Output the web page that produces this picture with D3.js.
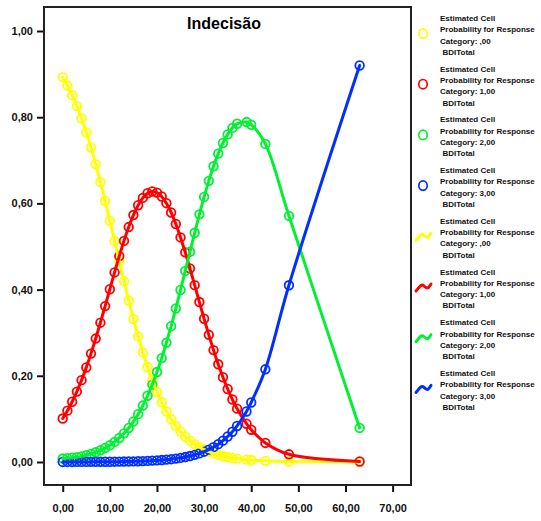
<!DOCTYPE html>
<html>
<head>
<meta charset="utf-8">
<script src="https://cdn.jsdelivr.net/npm/d3@7"></script>
<style>
  html, body { margin: 0; padding: 0; background: #fff; }
  svg { display: block; }
  text { font-family: "Liberation Sans", Arial, sans-serif; }
</style>
</head>
<body>
<svg id="chart" width="541" height="521"></svg>
<script>
// BDI total scores with predicted category probabilities (ordinal model)
const bdiTotal = [0,1,2,3,4,5,6,7,8,9,10,11,12,13,14,15,16,17,18,19,20,21,22,23,24,25,26,27,28,29,30,31,32,33,34,35,36,37,39,40,43,48,63];

const probCat0 = [0.8929,0.8734,0.8512,0.8258,0.7970,0.7649,0.7295,0.6908,0.6493,0.6054,0.5597,0.5130,0.4660,0.4197,0.3747,0.3318,0.2915,0.2543,0.2203,0.1897,0.1625,0.1385,0.1175,0.0994,0.0838,0.0704,0.0591,0.0495,0.0413,0.0345,0.0288,0.0239,0.0199,0.0166,0.0138,0.0114,0.0095,0.0079,0.0054,0.0045,0.0026,0.0010,0.0001];
const probCat1 = [0.1008,0.1191,0.1398,0.1633,0.1899,0.2193,0.2515,0.2864,0.3232,0.3617,0.4008,0.4398,0.4775,0.5129,0.5451,0.5730,0.5958,0.6127,0.6235,0.6277,0.6251,0.6160,0.6005,0.5790,0.5522,0.5211,0.4863,0.4490,0.4103,0.3711,0.3324,0.2951,0.2596,0.2267,0.1966,0.1694,0.1451,0.1237,0.0888,0.0749,0.0442,0.0178,0.0011];
const probCat2 = [0.0080,0.0090,0.0100,0.0112,0.0130,0.0156,0.0188,0.0225,0.0271,0.0325,0.0389,0.0466,0.0557,0.0665,0.0789,0.0938,0.1110,0.1309,0.1537,0.1795,0.2087,0.2410,0.2766,0.3151,0.3561,0.3991,0.4433,0.4877,0.5318,0.5746,0.6150,0.6523,0.6861,0.7154,0.7401,0.7601,0.7752,0.7848,0.7887,0.7825,0.7380,0.5710,0.0790];
const probCat3 = [0.0001,0.0001,0.0001,0.0002,0.0002,0.0002,0.0003,0.0003,0.0004,0.0005,0.0006,0.0007,0.0008,0.0010,0.0013,0.0015,0.0018,0.0021,0.0025,0.0031,0.0037,0.0045,0.0055,0.0065,0.0079,0.0095,0.0114,0.0138,0.0165,0.0199,0.0239,0.0287,0.0344,0.0413,0.0495,0.0591,0.0702,0.0836,0.1172,0.1381,0.2150,0.4100,0.9200];

const categoryLabels = [",00", "1,00", "2,00", "3,00"];
const seriesColors = ["#ffff00", "#ff0000", "#00f032", "#0030ff"];

const xTickValues = [0, 10, 20, 30, 40, 50, 60, 70];
const xTickLabels = ["0,00", "10,00", "20,00", "30,00", "40,00", "50,00", "60,00", "70,00"];
const yTickValues = [0, 0.2, 0.4, 0.6, 0.8, 1.0];
const yTickLabels = ["0,00", "0,20", "0,40", "0,60", "0,80", "1,00"];

const chartTitle = "Indecisão";

const series = [probCat0, probCat1, probCat2, probCat3].map((vals, i) => ({
  color: seriesColors[i],
  label: categoryLabels[i],
  points: bdiTotal.map((x, j) => ({ x, y: vals[j] }))
}));

const svg = d3.select("#chart");
const plot = { left: 44, right: 411, top: 7, bottom: 485 };

const x = d3.scaleLinear().domain([-3.97, 73.9]).range([plot.left, plot.right]);
const y = d3.scaleLinear().domain([-0.0534, 1.0557]).range([plot.bottom, plot.top]);

// Axes
const xAxis = d3.axisBottom(x).tickValues(xTickValues)
  .tickFormat((d, i) => xTickLabels[i]).tickSize(7).tickPadding(12);
const yAxis = d3.axisLeft(y).tickValues(yTickValues)
  .tickFormat((d, i) => yTickLabels[i]).tickSize(7).tickPadding(4);

const gx = svg.append("g").attr("transform", `translate(0,${plot.bottom})`).call(xAxis);
const gy = svg.append("g").attr("transform", `translate(${plot.left},0)`).call(yAxis);
[gx, gy].forEach(g => {
  g.select(".domain").remove();
  g.selectAll(".tick line").attr("stroke", "#111").attr("stroke-width", 2);
  g.selectAll(".tick text").attr("fill", "#111")
    .style("font-family", "'Liberation Sans', Arial, sans-serif")
    .style("font-size", "11px").style("font-weight", "bold");
});

// Plot frame
svg.append("rect")
  .attr("x", plot.left).attr("y", plot.top)
  .attr("width", plot.right - plot.left).attr("height", plot.bottom - plot.top)
  .attr("fill", "none").attr("stroke", "#222").attr("stroke-width", 2);

// Title
svg.append("text")
  .attr("x", 224).attr("y", 29)
  .attr("text-anchor", "middle")
  .style("font-size", "16px").style("font-weight", "bold")
  .attr("fill", "#000")
  .text(chartTitle);

svg.append("defs").append("clipPath").attr("id", "plot-clip")
  .append("rect").attr("x", plot.left + 1).attr("y", plot.top + 1)
  .attr("width", plot.right - plot.left - 2).attr("height", plot.bottom - plot.top - 2);

const layer = svg.append("g").attr("clip-path", "url(#plot-clip)");

// Observed-point markers
series.forEach(s => {
  layer.append("g").selectAll("circle").data(s.points).join("circle")
    .attr("cx", d => x(d.x)).attr("cy", d => y(d.y)).attr("r", 4.3)
    .attr("fill", "none").attr("stroke", s.color).attr("stroke-width", 1.8);
});

// Fitted curves
const line = d3.line().x(d => x(d.x)).y(d => y(d.y)).curve(d3.curveCatmullRom.alpha(0.5));
series.forEach(s => {
  layer.append("path").datum(s.points)
    .attr("d", line).attr("fill", "none")
    .attr("stroke", s.color).attr("stroke-width", 3)
    .attr("stroke-linejoin", "round").attr("stroke-linecap", "round");
});

// Legend: four marker entries, then four line entries
const legendX = 440;
const firstBaseline = 21;
const itemStep = 50.7;
const lineStep = 11.3;
const legendItems = [];
series.forEach(s => legendItems.push({ kind: "marker", color: s.color, label: s.label }));
series.forEach(s => legendItems.push({ kind: "line", color: s.color, label: s.label }));

const legend = svg.append("g");
legendItems.forEach((item, i) => {
  const base = firstBaseline + i * itemStep;
  const g = legend.append("g");
  const lines = ["Estimated Cell", "Probability for Response", "Category: " + item.label, "BDITotal"];
  lines.forEach((t, k) => {
    g.append("text")
      .attr("x", legendX + (k === 3 ? 2.5 : 0))
      .attr("y", base + k * lineStep)
      .style("font-size", "8px").style("font-weight", "bold")
      .attr("fill", "#111")
      .text(t);
  });
  const cy = base + 12.5;
  if (item.kind === "marker") {
    g.append("ellipse").attr("cx", 423).attr("cy", cy).attr("rx", 4.2).attr("ry", 4.7)
      .attr("fill", "none").attr("stroke", item.color).attr("stroke-width", 1.7);
  } else {
    g.append("path")
      .attr("d", `M416,${cy + 4} C419,${cy + 1} 421,${cy - 4} 424,${cy - 1} S428,${cy + 2} 431,${cy - 3}`)
      .attr("fill", "none").attr("stroke", item.color).attr("stroke-width", 3)
      .attr("stroke-linecap", "round");
  }
});
</script>
</body>
</html>
